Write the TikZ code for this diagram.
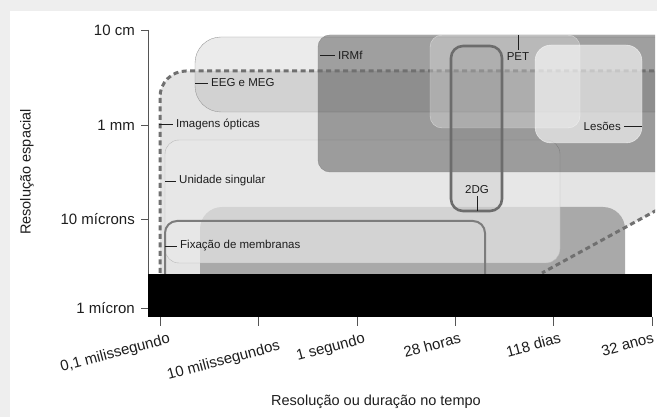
\documentclass[tikz,border=0pt]{standalone}
\usepackage{fontspec}
\setmainfont{Liberation Sans}
\usepackage{tikz}
\definecolor{PageGray}{HTML}{EEEEEE}
\definecolor{OptFill}{HTML}{E4E4E4}
\definecolor{HGray}{HTML}{A9A9A9}
\definecolor{EEGLine}{HTML}{9A9A9A}
\definecolor{UniFill}{HTML}{EAEAEA}
\definecolor{UniLine}{HTML}{B8B8B8}
\definecolor{IRMLine}{HTML}{8A8A8A}
\definecolor{DotGray}{HTML}{707070}
\definecolor{DGLine}{HTML}{6C6C6C}
\definecolor{FixLine}{HTML}{7C7C7C}
\definecolor{AxisGray}{HTML}{555555}
\definecolor{TxtDark}{HTML}{1E1E1E}
\tikzset{
  axlbl/.style={font=\fontsize{15}{17}\selectfont,text=TxtDark,inner sep=0pt},
  axtitle/.style={font=\fontsize{14.5}{16}\selectfont,text=TxtDark,inner sep=0pt},
  reglbl/.style={font=\fontsize{11.5}{13}\selectfont,text=TxtDark,inner sep=0pt,inner xsep=3pt},
  lead/.style={draw=TxtDark,line width=0.7pt},
  axisln/.style={draw=AxisGray,line width=0.8pt},
  optdots/.style={draw=DotGray,line width=3pt,dash pattern=on 5pt off 3.5pt},
}

\begin{document}
\begin{tikzpicture}[x=1pt,y=-1pt]
\path[use as bounding box] (0,0) rectangle (657,417);
\fill[PageGray] (0,0) rectangle (657,417);
\fill[white] (10,11) rectangle (657,417);

\begin{scope}
\clip (0,0) rectangle (655,417);
% optical imaging zone
\fill[OptFill] (160,274) -- (160,97) arc[start angle=180,end angle=270,radius=26] -- (657,71) -- (657,210) -- (542,274) -- cycle;
% unlabelled grey band
\fill[HGray,rounded corners=22pt] (200,207) rectangle (625,300);
% EEG and MEG
\filldraw[fill=black,fill opacity=0.08,draw=EEGLine,rounded corners=26pt] (195,37) rectangle (700,112);
% single unit
\filldraw[fill=UniFill,fill opacity=0.65,draw=UniLine,rounded corners=14pt] (165,140) rectangle (560,263);
% fMRI
\filldraw[fill=black,fill opacity=0.32,draw=IRMLine,rounded corners=12pt] (318,35) rectangle (700,172);
\draw[optdots] (160,273) -- (160,97) arc[start angle=180,end angle=270,radius=26] -- (657,71);
\draw[optdots] (657,210) -- (542,273);
% PET and lesions
\filldraw[fill=white,fill opacity=0.28,draw=white,draw opacity=0.5,rounded corners=12pt] (430,35) rectangle (580,128);
\filldraw[fill=white,fill opacity=0.6,draw=white,draw opacity=0.7,rounded corners=16pt] (535,45) rectangle (642,143);
% 2DG
\filldraw[fill=black,fill opacity=0.05,draw=DGLine,line width=2.6pt,rounded corners=12pt] (451,46) rectangle (502,211);
% patch clamp
\draw[FixLine,line width=2pt,rounded corners=12pt] (165,300) -- (165,221) -- (485,221) -- (485,300);
\end{scope}

\fill[black] (148,274) rectangle (652,317);

% labels of the regions
\coordinate (eegpin) at (195,83);
\node[reglbl,anchor=west] (eeg) at (208,83) {EEG e MEG};
\draw[lead] (eegpin) -- (eeg.west);
\coordinate (optpin) at (159,124);
\node[reglbl,anchor=west] (opt) at (173,124) {Imagens ópticas};
\draw[lead] (optpin) -- (opt.west);
\coordinate (unipin) at (165,181);
\node[reglbl,anchor=west] (uni) at (176,181) {Unidade singular};
\draw[lead] (unipin) -- (uni.west);
\coordinate (fixpin) at (165,246);
\node[reglbl,anchor=west] (fix) at (177,246) {Fixação de membranas};
\draw[lead] (fixpin) -- (fix.west);
\coordinate (irmpin) at (320,55);
\node[reglbl,anchor=west] (irm) at (335,55) {IRMf};
\draw[lead] (irmpin) -- (irm.west);
\coordinate (lespin) at (642,126);
\node[reglbl,anchor=east] (les) at (624,126) {Lesões};
\draw[lead] (lespin) -- (les.east);
\coordinate (petpin) at (518,35);
\node[reglbl,inner ysep=2pt,anchor=north] (pet) at (518,50) {PET};
\draw[lead] (petpin) -- (pet.north);
\coordinate (dgpin) at (477,211);
\node[reglbl,inner ysep=2pt,anchor=south] (dg) at (477,196) {2DG};
\draw[lead] (dgpin) -- (dg.south);

% axes
\draw[axisln] (148,30) -- (148,274);
\foreach \y/\t [count=\i] in {30/10 cm,125/1 mm,219/10 mícrons,308/1 mícron} {
  \draw[axisln] (141,\y) -- (148,\y);
  \node[axlbl,anchor=east] (ylbl\i) at (135,\y) {\t};
}
\foreach \x/\e/\f/\t [count=\i] in {160/168/332/{0,1 milissegundo},258/278/339/10 milissegundos,357/363/332/1 segundo,455/459/332/28 horas,553/559/332/118 dias,652/652/332/32 anos} {
  \draw[axisln] (\x,317) -- (\x,326);
  \node[axlbl,rotate=15,anchor=north east] (xlbl\i) at (\e,\f) {\t};
}
\node[axtitle,rotate=90] (ytitle) at (27,172) {Resolução espacial};
\node[axtitle] (xtitle) at (376,402) {Resolução ou duração no tempo};
\end{tikzpicture}
\end{document}
